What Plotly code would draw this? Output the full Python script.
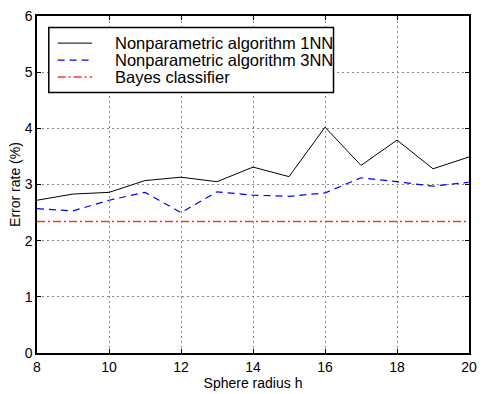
import plotly.graph_objects as go

radius = [8, 9, 10, 11, 12, 13, 14, 15, 16, 17, 18, 19, 20]
err_1nn = [2.72, 2.83, 2.86, 3.07, 3.13, 3.05, 3.31, 3.14, 4.02, 3.34, 3.79, 3.28, 3.49]
err_3nn = [2.57, 2.53, 2.72, 2.86, 2.50, 2.87, 2.81, 2.79, 2.85, 3.12, 3.05, 2.97, 3.04]
bayes = 2.34

series_names = ["Nonparametric algorithm 1NN", "Nonparametric algorithm 3NN", "Bayes classifier"]
x_ticks = [8, 10, 12, 14, 16, 18, 20]
y_ticks = [0, 1, 2, 3, 4, 5, 6]

FONT = "Liberation Sans, Arial, sans-serif"
styles = [dict(color="black", width=1),
          dict(color="blue", width=1.2, dash="7px,5px"),
          dict(color="#ff3030", width=1.5, dash="8px,3px,2px,3px")]

fig = go.Figure()
fig.add_trace(go.Scatter(x=radius, y=err_1nn, mode="lines", name=series_names[0],
                         line=styles[0], showlegend=False))
fig.add_trace(go.Scatter(x=radius, y=err_3nn, mode="lines", name=series_names[1],
                         line=styles[1], showlegend=False))
fig.add_trace(go.Scatter(x=[radius[0], radius[-1]], y=[bayes, bayes], mode="lines",
                         name=series_names[2], line=styles[2], showlegend=False))

axis_common = dict(showgrid=True, gridcolor="#8a8a8a", griddash="2px,3px", gridwidth=1,
                   showline=True, linecolor="black", linewidth=1.5, mirror="ticks",
                   ticks="inside", ticklen=4, tickcolor="black", zeroline=False,
                   tickfont=dict(family=FONT, size=14, color="black"))

fig.update_xaxes(range=[8, 20], tickvals=x_ticks,
                 title=dict(text="Sphere radius h", font=dict(family=FONT, size=14, color="black"), standoff=2),
                 **axis_common)
fig.update_yaxes(range=[0, 6], tickvals=y_ticks,
                 title=dict(text="Error rate (%)", font=dict(family=FONT, size=14, color="black"), standoff=1),
                 **axis_common)

# Legend box (drawn in paper coordinates, like MATLAB's legend)
x0_px, x1_px, y0_px, y1_px = 49, 339, 20, 87
plot_l, plot_r, plot_t, plot_b = 37, 477, 8, 356
def px_x(p): return (p - plot_l) / (plot_r - plot_l)
def px_y(p): return (plot_b - p) / (plot_b - plot_t)

shapes = [dict(type="rect", xref="paper", yref="paper",
               x0=px_x(x0_px), x1=px_x(x1_px), y0=px_y(y1_px), y1=px_y(y0_px),
               line=dict(color="black", width=1.5), fillcolor="white", layer="above")]
annotations = []
rows = [36, 53.5, 71]
for name, st, ry in zip(series_names, styles, rows):
    shapes.append(dict(type="line", xref="paper", yref="paper",
                       x0=px_x(58), x1=px_x(93), y0=px_y(ry), y1=px_y(ry),
                       line=st, layer="above"))
    annotations.append(dict(xref="paper", yref="paper", x=px_x(114), y=px_y(ry),
                            xanchor="left", yanchor="middle", text=name, showarrow=False,
                            font=dict(family=FONT, size=16.5, color="black")))

fig.update_layout(
    width=485, height=394,
    margin=dict(l=37, r=8, t=8, b=38),
    paper_bgcolor="white", plot_bgcolor="white",
    font=dict(family=FONT, color="black"),
    showlegend=False,
    shapes=shapes, annotations=annotations,
)

fig.write_html("out.html")
